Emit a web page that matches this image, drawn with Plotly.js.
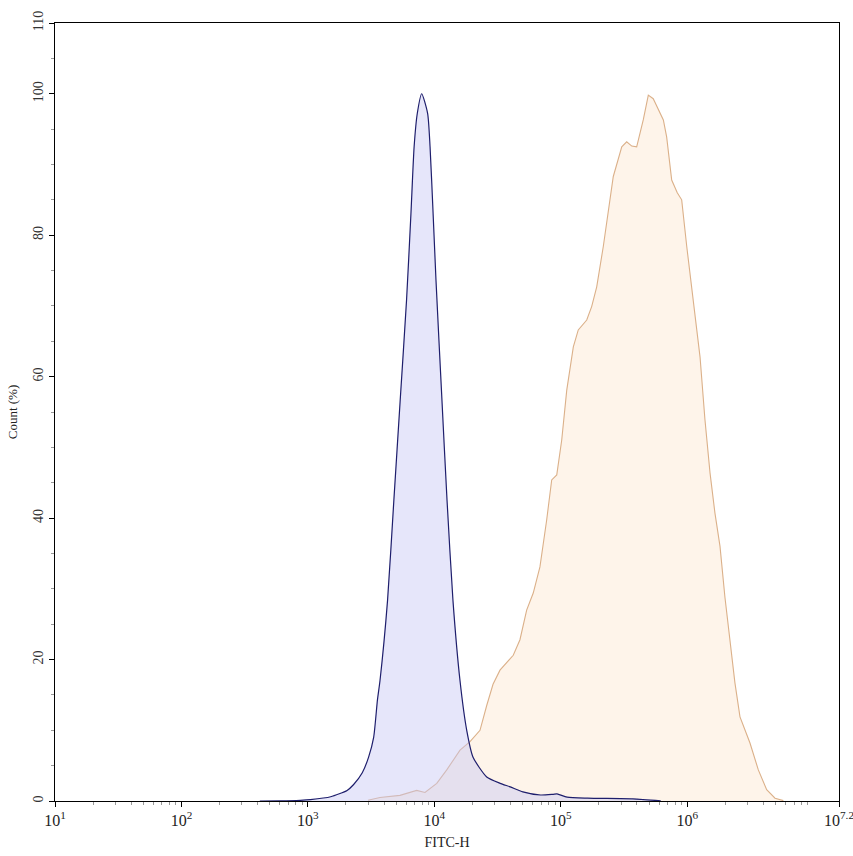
<!DOCTYPE html>
<html>
<head>
<meta charset="utf-8">
<script src="https://cdn.plot.ly/plotly-3.0.1.min.js"></script>
<style>html,body{margin:0;padding:0;background:#fff;}#chart{width:853px;height:856px;}</style>
</head>
<body>
<div id="chart"></div>
<script>
// FITC-H values given as log10 exponents, Count in %
const controlLogFITC = [2.62, 2.78, 2.94, 3.02, 3.18, 3.31, 3.36, 3.43, 3.48, 3.52, 3.55, 3.57, 3.63, 3.68, 3.73, 3.78, 3.815, 3.84, 3.865, 3.90, 3.947, 3.966, 3.99, 4.013, 4.06, 4.10, 4.147, 4.203, 4.256, 4.306, 4.414, 4.52, 4.60, 4.70, 4.84, 4.94, 4.97, 5.05, 5.21, 5.57, 5.79];
const controlCount   = [0, 0.02, 0.1, 0.2, 0.6, 1.5, 2.3, 4.0, 6.2, 9.0, 14.3, 17, 28.4, 42.6, 56.7, 70.8, 83.1, 92.5, 97.2, 100, 97.2, 92.5, 83.1, 73.6, 56.7, 42.6, 28.4, 17, 10, 6.2, 3.4, 2.5, 2.0, 1.3, 0.85, 0.95, 1.0, 0.55, 0.4, 0.3, 0.02];

const stainedLogFITC = [3.475, 3.57, 3.728, 3.86, 3.926, 4.019, 4.098, 4.203, 4.282, 4.361, 4.414, 4.464, 4.519, 4.624, 4.677, 4.73, 4.782, 4.835, 4.888, 4.928, 4.968, 5.007, 5.047, 5.099, 5.138, 5.205, 5.244, 5.284, 5.336, 5.415, 5.482, 5.521, 5.561, 5.60, 5.652, 5.692, 5.731, 5.771, 5.811, 5.837, 5.877, 5.921, 5.956, 5.996, 6.048, 6.101, 6.14, 6.18, 6.219, 6.259, 6.298, 6.338, 6.377, 6.417, 6.496, 6.562, 6.628, 6.694, 6.76];
const stainedCount   = [0.1, 0.5, 0.8, 1.5, 1.2, 2.5, 4.4, 7.2, 8.4, 10, 13.5, 16.5, 18.5, 20.6, 22.8, 27, 29.4, 33.1, 39.7, 45.4, 46.1, 51, 58.1, 64.2, 66.6, 68, 69.9, 72.7, 78.4, 88.3, 92.5, 93.2, 92.6, 92.5, 96.3, 99.8, 99.3, 97.7, 96.3, 93.9, 87.8, 86, 85, 78.4, 70.6, 62.8, 53.9, 46.4, 40.7, 36, 28.8, 22.8, 16.7, 11.9, 8.2, 4.4, 1.6, 0.4, 0.05];

const xTickExp = [1, 2, 3, 4, 5, 6, 7.2];
const xTickText = ['10<sup>1</sup>', '10<sup>2</sup>', '10<sup>3</sup>', '10<sup>4</sup>', '10<sup>5</sup>', '10<sup>6</sup>', '10<sup>7.2</sup>'];
const yTickVals = [0, 20, 40, 60, 80, 100, 110];

const toLin = a => a.map(v => Math.pow(10, v));
const xMinor = [];
for (let d = 1; d < 7; d++) for (let m = 2; m <= 9; m++) { const v = m * Math.pow(10, d); if (Math.log10(v) < 7.2) xMinor.push(v); }
const yMinor = [];
for (let v = 0; v <= 110; v += 5) yMinor.push(v);

const serif = "'Liberation Serif', 'Times New Roman', Times, serif";

const traces = [
  {
    x: toLin(stainedLogFITC), y: stainedCount, type: 'scatter', mode: 'lines',
    fill: 'tozeroy', fillcolor: 'rgba(253,234,214,0.5)',
    line: {color: '#dbb089', width: 1.1, shape: 'linear'}, hoverinfo: 'skip'
  },
  {
    x: toLin(controlLogFITC), y: controlCount, type: 'scatter', mode: 'lines',
    fill: 'tozeroy', fillcolor: 'rgba(200,200,245,0.45)',
    line: {color: '#1e1e6c', width: 1.2, shape: 'spline', smoothing: 0.6}, hoverinfo: 'skip'
  }
];

const layout = {
  width: 853, height: 856,
  margin: {l: 55, r: 14, t: 23, b: 55},
  paper_bgcolor: '#fff', plot_bgcolor: '#fff',
  showlegend: false,
  font: {family: serif, color: '#222', size: 14},
  xaxis: {
    type: 'log', range: [1, 7.2],
    tickmode: 'array', tickvals: toLin(xTickExp), ticktext: xTickText,
    ticklabeloverflow: 'allow',
    ticks: 'outside', ticklen: 5, tickwidth: 1, tickcolor: '#000',
    minor: {tickmode: 'array', tickvals: xMinor, ticks: 'outside', ticklen: 3, tickcolor: '#999', showgrid: false},
    showgrid: false, zeroline: false,
    showline: true, linecolor: '#000', linewidth: 1, mirror: true,
    tickfont: {family: serif, size: 16, color: '#222'},
    title: {text: 'FITC-H', font: {family: serif, size: 14, color: '#222'}, standoff: 8}
  },
  yaxis: {
    range: [0, 110],
    tickmode: 'array', tickvals: yTickVals, ticktext: yTickVals.map(String),
    ticklabeloverflow: 'allow',
    tickangle: -90,
    ticks: 'outside', ticklen: 5, tickwidth: 1, tickcolor: '#000',
    minor: {tickmode: 'array', tickvals: yMinor, ticks: 'outside', ticklen: 3, tickcolor: '#999', showgrid: false},
    showgrid: false, zeroline: false,
    showline: true, linecolor: '#000', linewidth: 1, mirror: true,
    tickfont: {family: serif, size: 14, color: '#333'},
    title: {text: 'Count (%)', font: {family: serif, size: 13, color: '#222'}, standoff: 10}
  }
};

Plotly.newPlot('chart', traces, layout, {staticPlot: true, displayModeBar: false});
</script>
</body>
</html>
